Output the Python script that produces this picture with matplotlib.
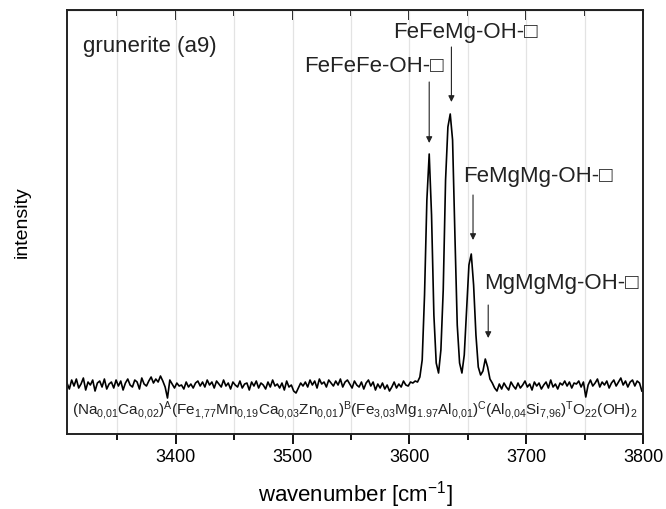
import matplotlib
matplotlib.use("Agg")
import matplotlib.pyplot as plt
from matplotlib.ticker import MultipleLocator
import numpy as np

plt.rcParams['font.family'] = ['Liberation Sans', 'DejaVu Sans']
plt.rcParams['mathtext.fontset'] = 'custom'
plt.rcParams['mathtext.rm'] = 'Liberation Sans'
plt.rcParams['mathtext.it'] = 'Liberation Sans'

# Raman spectrum, OH stretching region, sampled every 2 cm-1 from 3307 to 3799
wn_start, wn_step = 3307, 2
baseline_low = [
    2, -4, 5, -1, 6, -3, 1, 7, -5, 3, 0, 5, -6, 2, 4, -2, 6, -4, 1, 3,
    -3, 5, -1, 4, -5, 2, 6, 0, -2, 5, 3, -4, 7, 1, -1, 4, 8, 2, 6, 3,
    9, 4, -2, -13, 5, 1, -3, 2, -1, 0, -4, 3, -2, 1, -3, 2, 4, -1, 3, -2,
    5, 0, 3, -3, 4, 1, -2, 5, -1, 2, -4, 3, 0, -2, 4, -3, 1, 2, -5, 3,
    -1, 4, -3, 2, 0, -4, 3, -2, 5, -1, 1, -3, 2, -5, 4, -2, 0, -6, -8, -3,
    2, -1, 3, -2, 5, 0, 4, -3, 6, 1, 3, -2, 5, 2, -1, 4, 0, 6, -2, 3,
    5, 1, -3, 4, 0, -2, 3, -4, 2, 5, -1, 3, -5, 1, -3, 2, -4, 0, -6, -2,
    3, -3, 1, -2, 4, 0, -1, 3,
]
oh_band = [
    2, 4, 3, 8, 25, 90, 185, 231, 170, 70, 22, 12, 35, 95, 205, 258, 271, 245,
    150, 60, 22, 12, 30, 75, 120, 131, 100, 50, 18, 10, 14, 26, 18, 6, 2,
]
baseline_high = [
    -3, -6, 1, -4, 2, -2, -5, 3, -1, -4,
    2, -3, 0, 4, -2, 1, -5, 3, -1, 2,
    -4, 0, 3, -3, 5, -2, 1, -4, 2, 0,
    4, -1, 3, -3, 2, 1, 4, -2, 3, -12,
    0, 5, -1, 2, 6, -2, 3, 0, 4, -3,
    2, 5, -1, 3, 7, 0, 4, -2, 3, 5,
    -1, 4, 2, -6,
]
intensity = np.array(baseline_low + oh_band + baseline_high)
wavenumber = wn_start + wn_step * np.arange(len(intensity))

# band assignments
band_pos = [3617, 3636, 3654.5, 3667.5]
band_names = ['FeFeFe-OH-□', 'FeFeMg-OH-□', 'FeMgMg-OH-□', 'MgMgMg-OH-□']
label_xy = [(3570, 318), (3648, 352), (3710, 208), (3730, 102)]
arrow_top = [303, 338, 190, 80]
arrow_tip = [242, 283, 145, 47]

formula = (r'$\mathregular{(Na_{0{,}01}Ca_{0{,}02})^A(Fe_{1{,}77}Mn_{0{,}19}'
           r'Ca_{0{,}03}Zn_{0{,}01})^B(Fe_{3{,}03}Mg_{1.97}Al_{0{,}01})^C'
           r'(Al_{0{,}04}Si_{7{,}96})^TO_{22}(OH)_2}$')

fig = plt.figure(figsize=(6.66, 5.09), dpi=100)
ax = fig.add_axes([0.1006, 0.1473, 0.8649, 0.8331])

ax.plot(wavenumber, intensity, color='black', lw=1.2)

ax.set_xlim(3307, 3800)
ax.set_ylim(-49, 375)
ax.set_yticks([])
ax.xaxis.set_major_locator(MultipleLocator(100))
ax.xaxis.set_minor_locator(MultipleLocator(50))
ax.grid(which='both', axis='x', color='#e3e3e3', lw=0.9)
ax.tick_params(which='major', length=7, width=1.3, labelsize=13, pad=4, direction='out')
ax.tick_params(which='minor', length=4, width=1.3, direction='out')
for s in ax.spines.values():
    s.set_linewidth(1.4)
    s.set_color('#222222')

top = ax.secondary_xaxis('top')
top.xaxis.set_major_locator(MultipleLocator(100))
top.xaxis.set_minor_locator(MultipleLocator(50))
top.tick_params(which='major', length=7, width=1.3, direction='in', labeltop=False)
top.tick_params(which='minor', length=4, width=1.3, direction='in')

ax.set_xlabel('wavenumber [cm$^{\\mathregular{-1}}$]', fontsize=16, labelpad=9)
ax.set_ylabel('intensity', fontsize=14, labelpad=26)

ax.text(0.028, 0.913, 'grunerite (a9)', transform=ax.transAxes,
        fontsize=16, ha='left', va='center', color='#222222')

for pos, name, (tx, ty), y0, y1 in zip(band_pos, band_names, label_xy, arrow_top, arrow_tip):
    ax.text(tx, ty, name, fontsize=16, ha='center', va='center', color='#222222')
    ax.annotate('', xy=(pos, y1), xytext=(pos, y0),
                arrowprops=dict(arrowstyle='-|>', color='#222222', lw=0.8,
                                mutation_scale=9, shrinkA=0, shrinkB=0))

ax.text(0.009, 0.054, formula, transform=ax.transAxes, fontsize=11,
        ha='left', va='center', color='#222222')

fig.savefig('out.png', dpi=100)
